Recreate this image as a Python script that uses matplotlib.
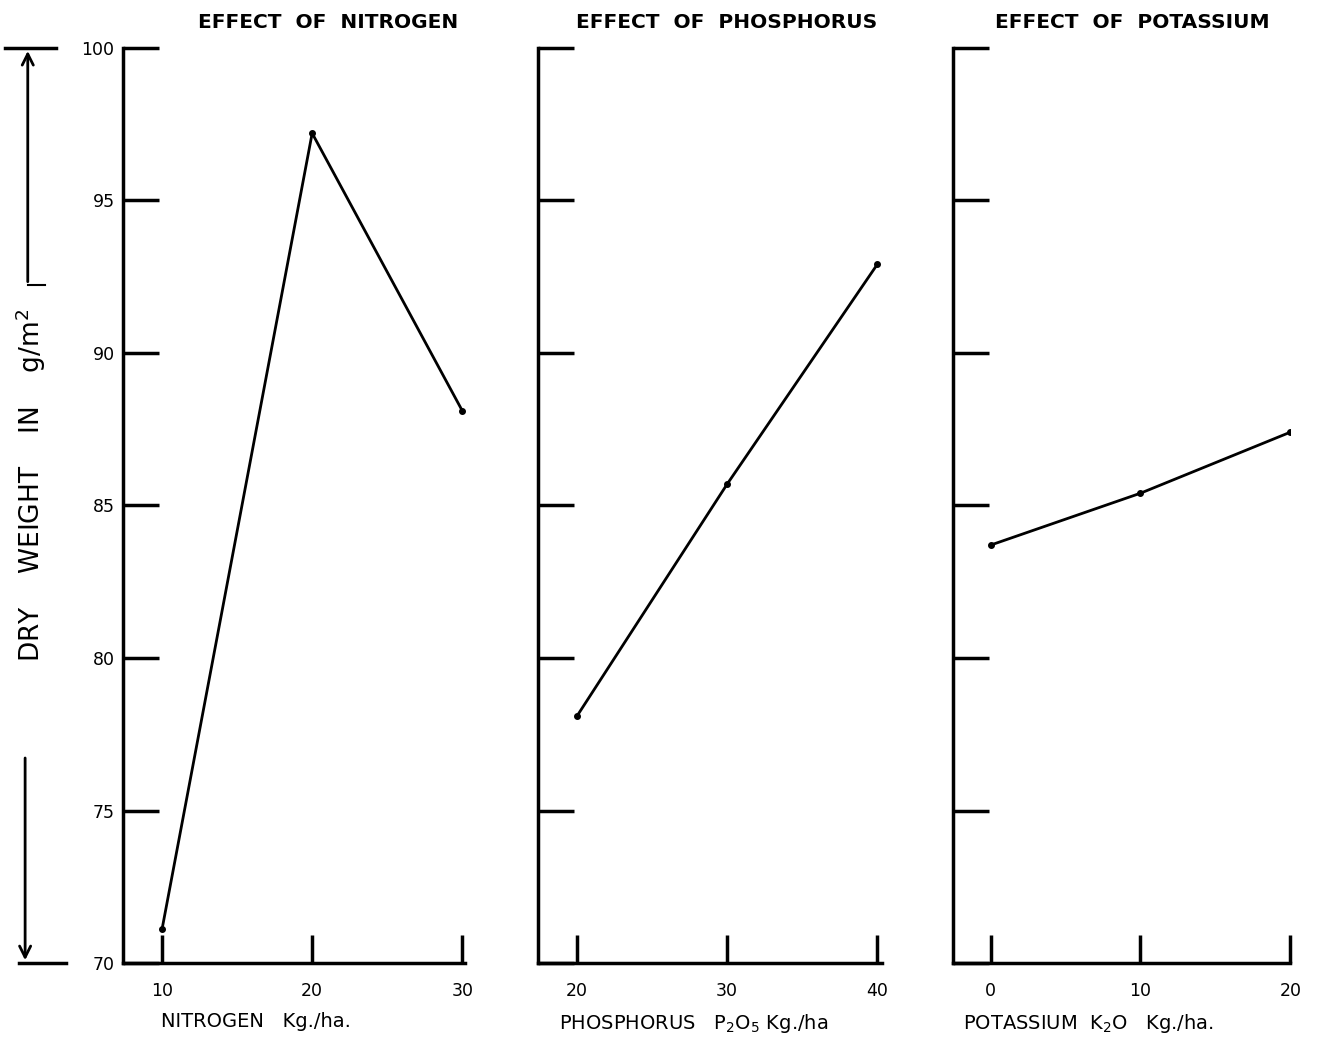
import matplotlib.pyplot as plt

# values
nitrogen = [10, 20, 30]
nitrogen_dw = [71.1, 97.2, 88.1]
phosphorus = [20, 30, 40]
phosphorus_dw = [78.1, 85.7, 92.9]
potassium = [0, 10, 20]
potassium_dw = [83.7, 85.4, 87.4]

titles = ["EFFECT  OF  NITROGEN", "EFFECT  OF  PHOSPHORUS", "EFFECT  OF  POTASSIUM"]
xlabels = ["NITROGEN   Kg./ha.", "PHOSPHORUS   P$_2$O$_5$ Kg./ha", "POTASSIUM  K$_2$O   Kg./ha."]
yticks = [70, 75, 80, 85, 90, 95, 100]

panels = [
    (nitrogen, nitrogen_dw, (7.4, 30.2), [0.093, 0.259], 0.60, 0.11),
    (phosphorus, phosphorus_dw, (17.4, 40.3), [0.407, 0.260], 0.55, 0.06),
    (potassium, potassium_dw, (-2.5, 20.0), [0.721, 0.255], 0.53, 0.03),
]

fig = plt.figure(figsize=(13.22, 10.46), dpi=100)
bottom, height = 0.0793, 0.875

for i, (x, y, xlim, (left, width), tx, lx) in enumerate(panels):
    ax = fig.add_axes([left, bottom, width, height])
    ax.plot(x, y, color="black", lw=2, marker="o", ms=4)
    ax.set_xlim(*xlim)
    ax.set_ylim(70, 100)
    ax.set_xticks(x)
    ax.set_yticks(yticks)
    ax.spines[["top", "right"]].set_visible(False)
    ax.spines[["left", "bottom"]].set_linewidth(2.5)
    ax.tick_params(direction="in", width=2.5, labelsize=12.5)
    ax.tick_params(axis="y", length=26, pad=6)
    ax.tick_params(axis="x", length=20, pad=14)
    if i > 0:
        ax.set_yticklabels([])
    ax.set_xlabel(xlabels[i], fontsize=14, labelpad=8, loc="left")
    ax.xaxis.set_label_coords(lx, -0.053)
    ax.xaxis.label.set_horizontalalignment("left")
    ax.set_title(titles[i], fontsize=14.5, fontweight="bold", pad=14, loc="center", x=tx)

# hand-drawn y label with arrows
fig.text(0.023, 0.536, "DRY    WEIGHT    IN    g/m$^2$", rotation=90,
         ha="center", va="center", fontsize=19)
fig.add_artist(plt.Line2D([0.004, 0.042], [0.954, 0.954], color="black", lw=2.5))
fig.add_artist(plt.Line2D([0.014, 0.050], [0.0793, 0.0793], color="black", lw=2.5))
plt.annotate("", xy=(0.021, 0.954), xytext=(0.021, 0.728), xycoords="figure fraction",
             arrowprops=dict(arrowstyle="->", lw=2, color="black", mutation_scale=20))
plt.annotate("", xy=(0.019, 0.0793), xytext=(0.019, 0.278), xycoords="figure fraction",
             arrowprops=dict(arrowstyle="->", lw=2, color="black", mutation_scale=20))
fig.add_artist(plt.Line2D([0.021, 0.034], [0.728, 0.728], color="black", lw=1.5))

plt.savefig("out.png", dpi=100)
plt.close()
